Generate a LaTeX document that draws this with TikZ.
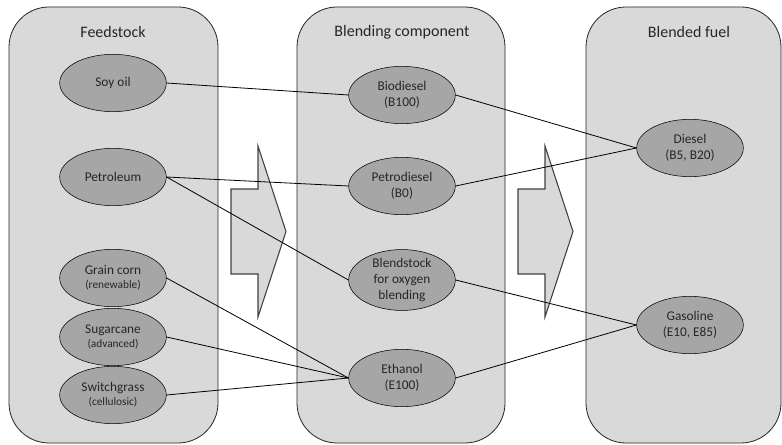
\documentclass[tikz,border=0pt]{standalone}
\usepackage{fontspec}
\setmainfont{Carlito}
\usetikzlibrary{shapes.geometric}
\definecolor{panelgray}{HTML}{D9D9D9}
\definecolor{itemgray}{HTML}{A6A6A6}
\tikzset{
  panel/.style={draw=black!85, fill=panelgray, rounded corners=30pt, line width=0.6pt, inner sep=0pt},
  title/.style={font=\fontsize{12}{14}\selectfont, text=black!85},
  item/.style={ellipse, draw=black, fill=itemgray, minimum width=80pt, minimum height=43pt,
    inner sep=0pt, align=center, text=black!85, font=\fontsize{10}{11.8}\selectfont},
  link/.style={draw=black, line width=0.6pt},
  bigarrow/.style={draw=black!75, fill=panelgray, line width=0.8pt}
}
\newcommand{\note}[1]{{\fontsize{8.5}{10}\selectfont #1}}
\begin{document}
\begin{tikzpicture}[x=0.75pt,y=-0.75pt]
		\useasboundingbox (0,0) rectangle (782,445);
		% columns
		\node[panel, minimum width=156.75pt, minimum height=327pt] (feed) at (113.5,225) {};
		\node[panel, minimum width=156pt, minimum height=327pt] (blend) at (401,225) {};
		\node[panel, minimum width=146.25pt, minimum height=327pt] (fuel) at (683.5,225) {};
		\node[title] (feedT) at (113,32) {Feedstock};
		\node[title] (blendT) at (402,32) {Blending component};
		\node[title] (fuelT) at (689,32) {Blended fuel};
		%
		% big arrows
		\foreach \s in {0,287}
		  \draw[bigarrow, xshift=\s*0.75pt] (231,189) -- (258,189) -- (258,146) -- (286,231.5)
		    -- (258,317) -- (258,274) -- (231,274) -- cycle;
		%
		% feedstock
		\node[item] (soy) at (113,83) {Soy oil};
		\node[item] (petro) at (113,177) {Petroleum};
		\node[item] (corn) at (113,278) {Grain corn\\[-1.5pt]\note{(renewable)}};
		\node[item] (cane) at (113,337) {Sugarcane\\[-1.5pt]\note{(advanced)}};
		\node[item] (grass) at (113,395) {Switchgrass\\[-1.5pt]\note{(cellulosic)}};
		%
		% blending components
		\node[item] (bio) at (402,95) {Biodiesel\\(B100)};
		\node[item] (pdsl) at (402,186) {Petrodiesel\\(B0)};
		\node[item] (bstock) at (402,280) {Blendstock\\for oxygen\\blending};
		\node[item] (eth) at (402,378) {Ethanol\\(E100)};
		%
		% blended fuels
		\node[item] (diesel) at (690,148) {Diesel\\(B5, B20)};
		\node[item] (gas) at (690,325) {Gasoline\\(E10, E85)};
		%
		\draw[link] (soy.east) -- (bio.west);
		\draw[link] (petro.east) -- (pdsl.west);
		\draw[link] (petro.east) -- (bstock.west);
		\draw[link] (corn.east) -- (eth.west);
		\draw[link] (cane.east) -- (eth.west);
		\draw[link] (grass.east) -- (eth.west);
		\draw[link] (bio.east) -- (diesel.west);
		\draw[link] (pdsl.east) -- (diesel.west);
		\draw[link] (bstock.east) -- (gas.west);
		\draw[link] (eth.east) -- (gas.west);
	\end{tikzpicture}
\end{document}
